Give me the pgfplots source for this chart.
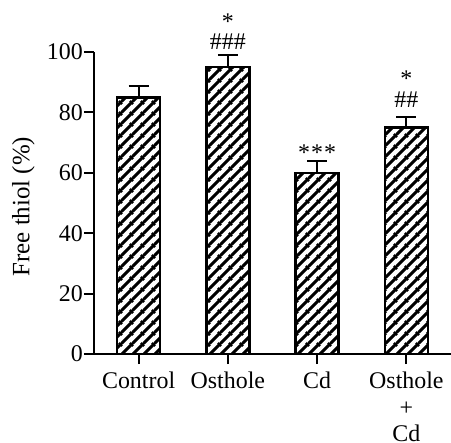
\documentclass[border=0pt]{standalone}
\usepackage{fontspec}
\setmainfont{Liberation Serif}
\usepackage{pgfplots}
\pgfplotsset{compat=1.18}
\usetikzlibrary{patterns.meta}
\tikzdeclarepattern{
  name=hatch,
  type=uncolored,
  bounding box={(0,0) and (11bp,11bp)},
  tile size={(11bp,11bp)},
  code={
    \draw[line width=3.4bp] (-1bp,-1bp) -- (12bp,12bp);
    \draw[line width=3.4bp] (-1bp,10bp) -- (1bp,12bp);
    \draw[line width=3.4bp] (10bp,-1bp) -- (12bp,1bp);
  }
}
\begin{document}
\fontsize{24}{27}\selectfont
\begin{tikzpicture}
\begin{axis}[
  at={(0,0)}, anchor=south west,
  scale only axis, width=357bp, height=302bp,
  xmin=-0.5, xmax=3.5, ymin=0, ymax=100,
  axis x line=bottom, axis y line=left,
  axis line style={-, line width=2bp},
  tick style={line width=2bp, black},
  major tick length=10bp, tick align=outside,
  ytick={0,20,40,60,80,100},
  xtick={0,1,2,3},
  xticklabels={Control,Osthole,Cd,{Osthole\\+\\Cd}},
  xticklabel style={align=center, font=\fontsize{24}{26.5}\selectfont},
  yticklabel style={inner sep=1bp, font=\fontsize{24}{27}\selectfont},
  /pgf/number format/assume math mode=true,
  ylabel={Free thiol (\%)},
  ylabel style={at={(axis description cs:-0.198,0.488)}, anchor=center, font=\fontsize{25}{27}\selectfont},
  clip=false,
]
\addplot[ybar, bar width=43bp, draw=black, line width=2.5bp, pattern=hatch,
  error bars/.cd, y dir=plus, y explicit,
  error bar style={line width=2bp, black},
  error mark options={rotate=90, line width=2bp, mark size=10bp, black}]
coordinates {
  (0,85) +- (0,3.7)
  (1,95) +- (0,4.0)
  (2,60) +- (0,4.0)
  (3,75) +- (0,3.4)
};
\node[anchor=base, font=\fontsize{24}{27}\selectfont] at (axis cs:1,107.3) {*};
\node[anchor=base, font=\fontsize{24}{27}\selectfont] at (axis cs:1,100.7) {\#\#\#};
\node[anchor=base, font=\fontsize{24}{27}\selectfont] at (axis cs:2,64.2) {*\kern1bp*\kern1bp*};
\node[anchor=base, font=\fontsize{24}{27}\selectfont] at (axis cs:3,88.6) {*};
\node[anchor=base, font=\fontsize{24}{27}\selectfont] at (axis cs:3,81.5) {\#\#};
\end{axis}
\pgfresetboundingbox
\useasboundingbox (-94bp,-89bp) rectangle (357bp,354bp);
\end{tikzpicture}
\end{document}
